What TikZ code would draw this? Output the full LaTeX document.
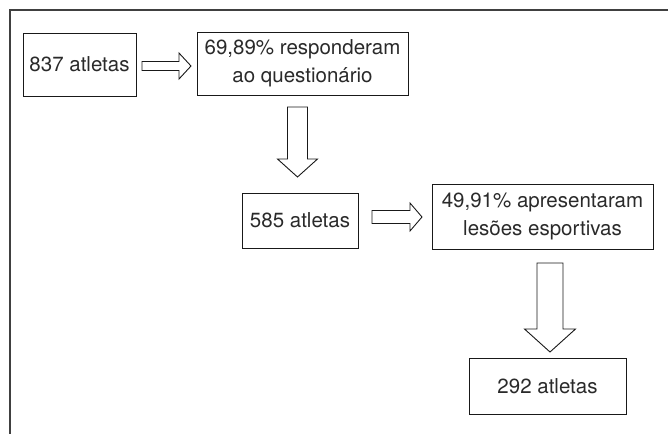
\documentclass[tikz,border=0pt]{standalone}
\usepackage{fontspec}
\setmainfont{TeX Gyre Heros}
\usetikzlibrary{calc}
\definecolor{framegray}{HTML}{404040}
\definecolor{txt}{HTML}{2A2A2A}
\tikzset{
  box/.style={draw=black!90, line width=1pt, fill=white, inner sep=0pt, align=center,
    text=txt, font=\fontsize{20.5}{28}\selectfont},
  blockarrow/.style={draw=black!90, line width=0.9pt, fill=white, line join=miter},
  frameline/.style={draw=framegray, line width=2pt}
}
% horizontal block arrow: #1 start, #2 tip, #3 shaft half, #4 head half, #5 head length
\newcommand\harrowblk[5]{%
  \draw[blockarrow] let \p1=(#1), \p2=(#2) in
    (\x1,\y1+#3) -- (\x2-#5,\y1+#3) -- (\x2-#5,\y1+#4) -- (\x2,\y2) --
    (\x2-#5,\y1-#4) -- (\x2-#5,\y1-#3) -- (\x1,\y1-#3) -- cycle;}
% downward block arrow
\newcommand\varrowblk[5]{%
  \draw[blockarrow] let \p1=(#1), \p2=(#2) in
    (\x1-#3,\y1) -- (\x1-#3,\y2+#5) -- (\x1-#4,\y2+#5) -- (\x2,\y2) --
    (\x1+#4,\y2+#5) -- (\x1+#3,\y2+#5) -- (\x1+#3,\y1) -- cycle;}
\begin{document}
\begin{tikzpicture}[x=1pt,y=-1pt]
\useasboundingbox (0,0) rectangle (668,434);
\draw[frameline] (668,10) -- (10,10) -- (10,434);

\node[box, minimum width=113pt, minimum height=63pt] (b1) at (79.5,64.5) {837 atletas};
\node[box, minimum width=211pt, minimum height=63pt] (b2) at (302.5,63.5) {69,89\% responderam\\ao questionário};
\node[box, minimum width=116pt, minimum height=55pt] (b3) at (300,220.5) {585 atletas};
\node[box, minimum width=221pt, minimum height=65pt] (b4) at (542.5,216.5) {49,91\% apresentaram\\lesões esportivas};
\node[box, minimum width=157pt, minimum height=56pt] (b5) at (547.5,386) {292 atletas};

\coordinate (a1s) at (142,66);  \coordinate (a1e) at (191,66);
\coordinate (a2s) at (297.5,107); \coordinate (a2e) at (297.5,177);
\coordinate (a3s) at (372,217); \coordinate (a3e) at (422,217);
\coordinate (a4s) at (550,263); \coordinate (a4e) at (550,352);

\harrowblk{a1s}{a1e}{4.5pt}{13pt}{12pt}
\varrowblk{a2s}{a2e}{10pt}{20pt}{18pt}
\harrowblk{a3s}{a3e}{6.5pt}{14pt}{12pt}
\varrowblk{a4s}{a4e}{13pt}{25.5pt}{23pt}
\end{tikzpicture}
\end{document}
